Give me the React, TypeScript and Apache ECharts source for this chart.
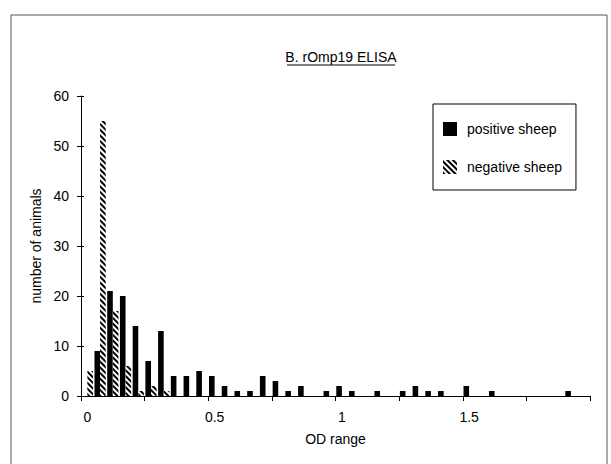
import React, { useEffect, useRef } from "react";
import * as echarts from "echarts";

const categories = [
  "0", "0.05", "0.1", "0.15", "0.2", "0.25", "0.3", "0.35", "0.4", "0.45",
  "0.5", "0.55", "0.6", "0.65", "0.7", "0.75", "0.8", "0.85", "0.9", "0.95",
  "1", "1.05", "1.1", "1.15", "1.2", "1.25", "1.3", "1.35", "1.4", "1.45",
  "1.5", "1.55", "1.6", "1.65", "1.7", "1.75", "1.8", "1.85", "1.9", "1.95",
];

const positiveSheep = [
  0, 9, 21, 20, 14, 7, 13, 4, 4, 5,
  4, 2, 1, 1, 4, 3, 1, 2, 0, 1,
  2, 1, 0, 1, 0, 1, 2, 1, 1, 0,
  2, 0, 1, 0, 0, 0, 0, 0, 1, 0,
];

const negativeSheep = [
  5, 55, 17, 6, 1, 2, 1, 0, 0, 0,
  0, 0, 0, 0, 0, 0, 0, 0, 0, 0,
  0, 0, 0, 0, 0, 0, 0, 0, 0, 0,
  0, 0, 0, 0, 0, 0, 0, 0, 0, 0,
];

const seriesNames = ["positive sheep", "negative sheep"];
const titleText = "B. rOmp19 ELISA";
const xAxisName = "OD range";
const yAxisName = "number of animals";
const yMin = 0;
const yMax = 60;
const yStep = 10;

const FONT = "'Liberation Sans', Arial, sans-serif";

export default function App() {
  const ref = useRef<HTMLDivElement>(null);

  useEffect(() => {
    if (!ref.current) return;
    const chart = echarts.init(ref.current, undefined, { renderer: "svg" });
    const hatch = {
      symbol: "rect",
      symbolSize: 1,
      dashArrayX: [1, 0],
      dashArrayY: [1.7, 1.7],
      rotation: Math.PI / 4,
      color: "#000",
      backgroundColor: "#fff",
    };
    chart.setOption({
      animation: false,
      backgroundColor: "#fff",
      textStyle: { fontFamily: FONT, color: "#000" },
      graphic: [
        {
          type: "rect",
          shape: { x: 11, y: 15, width: 596, height: 470 },
          style: { fill: "none", stroke: "#555", lineWidth: 1 },
          silent: true,
        },
        {
          type: "text",
          x: 341,
          y: 57,
          style: {
            text: titleText,
            fontFamily: FONT,
            fontSize: 14,
            fill: "#000",
            textAlign: "center",
            textVerticalAlign: "middle",
          },
        },
        {
          type: "line",
          shape: { x1: 287, y1: 65, x2: 395, y2: 65 },
          style: { stroke: "#000", lineWidth: 1 },
        },
      ],
      legend: {
        orient: "vertical",
        left: 433,
        top: 104,
        width: 144,
        itemWidth: 14,
        itemHeight: 14,
        itemGap: 24,
        padding: [18, 14, 16, 10],
        borderColor: "#000",
        borderWidth: 1,
        icon: "rect",
        textStyle: { fontFamily: FONT, fontSize: 14, color: "#000", padding: [0, 0, 0, 5] },
        data: seriesNames,
      },
      grid: { left: 81, right: 21, top: 96, bottom: 68 },
      xAxis: {
        type: "category",
        data: categories,
        boundaryGap: true,
        name: xAxisName,
        nameLocation: "middle",
        nameGap: 36,
        nameTextStyle: { fontFamily: FONT, fontSize: 14, color: "#000" },
        axisLine: { lineStyle: { color: "#000", width: 1 } },
        axisTick: { show: true, interval: 4, alignWithLabel: false, length: 5, lineStyle: { color: "#000" } },
        axisLabel: { interval: 9, fontFamily: FONT, fontSize: 14, color: "#000", margin: 14 },
        splitLine: { show: false },
      },
      yAxis: [
        {
          type: "value",
          min: yMin,
          max: yMax,
          interval: yStep,
          name: yAxisName,
          nameLocation: "middle",
          nameGap: 28,
          nameRotate: 90,
          nameTextStyle: { fontFamily: FONT, fontSize: 14, color: "#000" },
          axisLine: { show: true, lineStyle: { color: "#000", width: 1 } },
          axisTick: { show: true, length: 4, lineStyle: { color: "#000" } },
          axisLabel: { fontFamily: FONT, fontSize: 14, color: "#000", margin: 12 },
          splitLine: { show: false },
        },
        {
          type: "value",
          min: yMin,
          max: yMax,
          interval: yStep,
          position: "left",
          axisLine: { show: false },
          axisTick: { show: true, inside: true, length: 3, lineStyle: { color: "#000" } },
          axisLabel: { show: false },
          splitLine: { show: false },
        },
      ],
      series: [
        {
          name: seriesNames[0],
          type: "bar",
          data: positiveSheep,
          barGap: "0%",
          barCategoryGap: "12%",
          itemStyle: { color: "#000" },
        },
        {
          name: seriesNames[1],
          type: "bar",
          data: negativeSheep,
          barGap: "0%",
          barCategoryGap: "12%",
          itemStyle: { color: "#fff", borderWidth: 0, decal: hatch },
        },
      ],
    });
    return () => chart.dispose();
  }, []);

  return (
    <div
      ref={ref}
      style={{ position: "absolute", left: 0, top: 0, width: 611, height: 464 }}
    />
  );
}
